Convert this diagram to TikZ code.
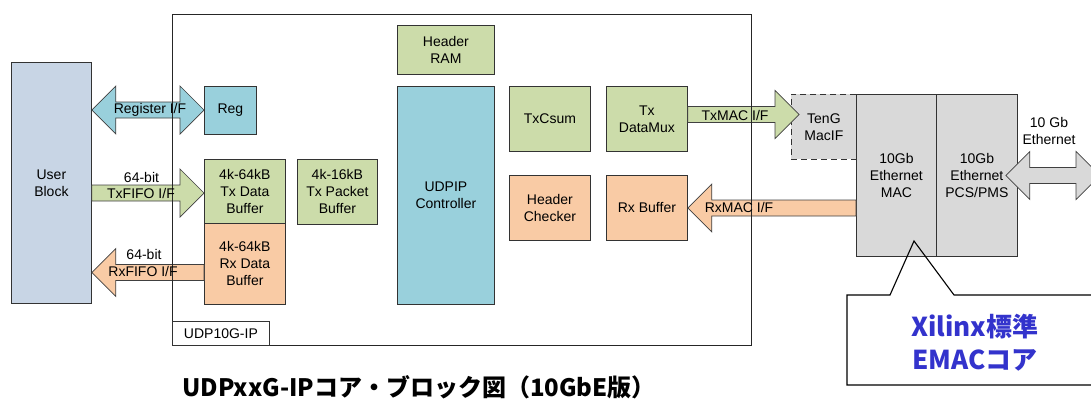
\documentclass[tikz,border=0pt]{standalone}
\usepackage{fontspec}
\setmainfont{Liberation Sans}
\newfontfamily\jpfont{Noto Sans CJK JP}
\definecolor{ubfill}{RGB}{200,213,229}
\definecolor{bluefill}{RGB}{153,208,220}
\definecolor{greenfill}{RGB}{204,220,170}
\definecolor{orangefill}{RGB}{249,203,165}
\definecolor{grayfill}{RGB}{217,217,217}
\definecolor{emacblue}{RGB}{51,51,204}
\tikzstyle{px}=[x=1pt,y=-1pt]
\tikzstyle{blk}=[draw=black!80,line width=0.8pt,rectangle,anchor=north west,inner sep=0pt,align=center,font=\fontsize{14}{17}\selectfont]
\tikzstyle{blkU}=[blk,fill=ubfill]
\tikzstyle{blkB}=[blk,fill=bluefill]
\tikzstyle{blkG}=[blk,fill=greenfill]
\tikzstyle{blkO}=[blk,fill=orangefill]
\tikzstyle{blkX}=[blk,fill=grayfill]
\tikzstyle{wide}=[draw=black!75,line width=0.7pt,line join=miter]
\tikzstyle{wideB}=[wide,fill=bluefill]
\tikzstyle{wideG}=[wide,fill=greenfill]
\tikzstyle{wideO}=[wide,fill=orangefill]
\tikzstyle{wideX}=[wide,fill=grayfill]
\tikzstyle{lbl}=[inner sep=0pt,align=center,font=\fontsize{14}{17}\selectfont]
% fat arrows: tail, tip, mid y, style
\newcommand\fatright[4]{%
  \draw[#4] (#1 |- 0,#3-8) -- ([xshift=-24]#2 |- 0,#3-8) -- ([xshift=-24]#2 |- 0,#3-24)
    -- (#2 |- 0,#3) -- ([xshift=-24]#2 |- 0,#3+24) -- ([xshift=-24]#2 |- 0,#3+8)
    -- (#1 |- 0,#3+8) -- cycle;}
\newcommand\fatleft[4]{%
  \draw[#4] (#1 |- 0,#3-8) -- ([xshift=24]#2 |- 0,#3-8) -- ([xshift=24]#2 |- 0,#3-24)
    -- (#2 |- 0,#3) -- ([xshift=24]#2 |- 0,#3+24) -- ([xshift=24]#2 |- 0,#3+8)
    -- (#1 |- 0,#3+8) -- cycle;}
\newcommand\fatboth[4]{%
  \draw[#4] (#1 |- 0,#3) -- ([xshift=24]#1 |- 0,#3-24) -- ([xshift=24]#1 |- 0,#3-8)
    -- ([xshift=-24]#2 |- 0,#3-8) -- ([xshift=-24]#2 |- 0,#3-24) -- (#2 |- 0,#3)
    -- ([xshift=-24]#2 |- 0,#3+24) -- ([xshift=-24]#2 |- 0,#3+8)
    -- ([xshift=24]#1 |- 0,#3+8) -- ([xshift=24]#1 |- 0,#3+24) -- cycle;}

\begin{document}
\begin{tikzpicture}[px]
  \useasboundingbox (0,0) rectangle (1091,399);
  % blocks
  \node[blkU,minimum width=80,minimum height=241] (ub) at (11,62) {User\\Block};
  \node[blkB,minimum width=52,minimum height=48] (reg) at (204,86) {Reg};
  \node[blkG,minimum width=81,minimum height=64] (txdb) at (204,159) {4k-64kB\\Tx Data\\Buffer};
  \node[blkO,minimum width=81,minimum height=81] (rxdb) at (204,223) {4k-64kB\\Rx Data\\Buffer};
  \node[blkG,minimum width=80,minimum height=65] (txpb) at (297,159) {4k-16kB\\Tx Packet\\Buffer};
  \node[blkG,minimum width=97,minimum height=49] (hram) at (397,25) {Header\\RAM};
  \node[blkB,minimum width=97,minimum height=218] (udpip) at (397,86) {UDPIP\\Controller};
  \foreach \n/\s/\x/\y/\t in {txcs/blkG/509/86/TxCsum, txdm/blkG/606/86/{Tx\\DataMux},
                              hchk/blkO/509/175/{Header\\Checker}, rxbuf/blkO/606/175/Rx Buffer}
    {\node[\s,minimum width=81,minimum height=65] (\n) at (\x,\y) {\t};}
  \node[blkX,dash pattern=on 6pt off 4pt,minimum width=65,minimum height=65] (tengif) at (791,94) {TenG\\MacIF};
  \node[blkX,minimum width=80,minimum height=162] (mac) at (856,94) {10Gb\\Ethernet\\MAC};
  \node[blkX,minimum width=81,minimum height=162] (pcs) at (936,94) {10Gb\\Ethernet\\PCS/PMS};
  % wide arrows
  \fatboth{ub.east}{reg.west}{110}{wideB}
  \fatright{ub.east}{txdb.west}{193}{wideG}
  \fatleft{rxdb.west}{ub.east}{272.5}{wideO}
  \coordinate (tenin) at ([xshift=8]tengif.west);
  \fatright{txdm.east}{tenin}{114.5}{wideG}
  \fatleft{mac.west}{rxbuf.east}{208}{wideO}
  \coordinate (ethL) at ([xshift=-12]pcs.east);
  \coordinate (ethR) at (1100,175.5);
  \fatboth{ethL}{ethR}{175.5}{wideX}
  % core outline
  \node[draw=black!85,line width=0.8pt,anchor=north west,minimum width=579,minimum height=331] (core) at (172,14) {};
  \node[blk,fill=white,anchor=south west,minimum width=97,minimum height=24] (corename) at (core.south west) {UDP10G-IP};
  % arrow texts
  \node[lbl] (regif) at (150,110) {Register I/F};
  \node[lbl] (txw) at (141.5,177) {64-bit};
  \node[lbl] (txif) at (141,193) {TxFIFO I/F};
  \node[lbl] (rxw) at (144,254) {64-bit};
  \node[lbl] (rxif) at (143,271) {RxFIFO I/F};
  \node[lbl] (txmacif) at (735,115) {TxMAC I/F};
  \node[lbl] (rxmacif) at (739,207) {RxMAC I/F};
  \node[lbl] (eth) at (1049,130.5) {10 Gb\\Ethernet};
  % callout
  \draw[line width=1.1pt] (1100,295) -- (954,295) -- (914,241) -- (890,295) -- (847,295)
    -- (847,385) -- (1100,385);
  \node[inner sep=0pt,align=center,text=emacblue,font=\jpfont\bfseries\fontsize{26}{33}\selectfont] (emac) at (975,343) {Xilinx標準\\EMACコア};
  % caption
  \node[inner sep=0pt,font=\jpfont\bfseries\fontsize{24}{28}\selectfont] (title) at (419,387.5) {UDPxxG-IPコア・ブロック図（10GbE版）};
\end{tikzpicture}
\end{document}
